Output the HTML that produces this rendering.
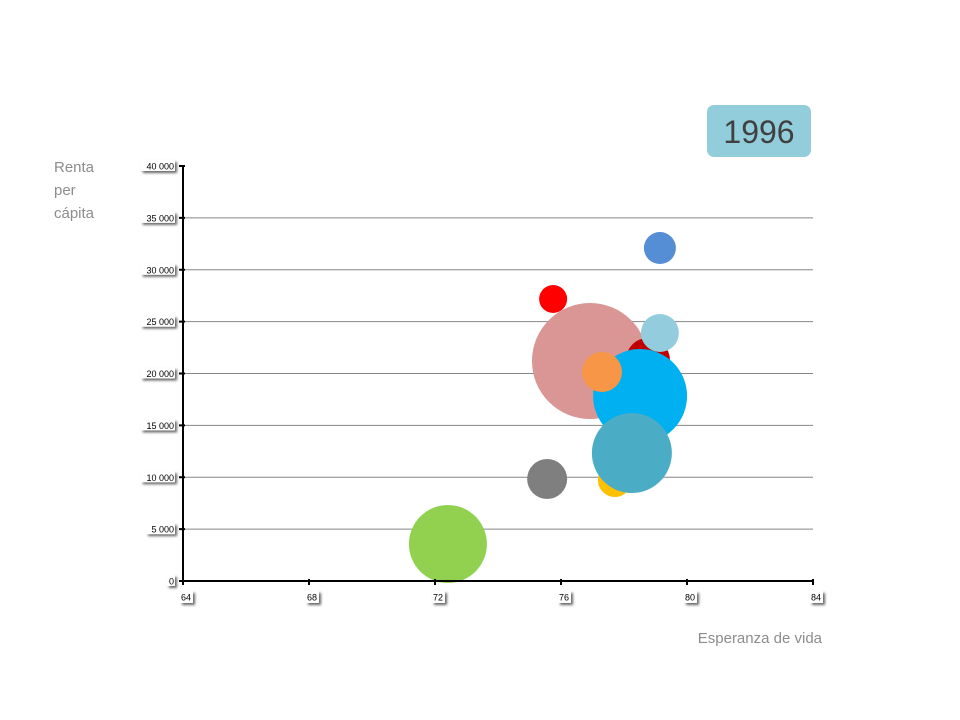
<!DOCTYPE html>
<html><head><meta charset="utf-8"><style>
body{margin:0;background:#fff;font-family:"Liberation Sans",sans-serif}
svg{display:block}
</style></head><body>
<svg id="c" width="960" height="720">
<defs><filter id="sh" x="-30%" y="-30%" width="170%" height="180%"><feDropShadow dx="2" dy="2" stdDeviation="1.2" flood-color="#000" flood-opacity="0.6"/></filter></defs>
<rect x="707" y="105" width="104" height="52" rx="7" fill="#92cddc"/>
<text x="759" y="143" text-anchor="middle" font-size="32" fill="#404040">1996</text>
<text font-size="15" fill="#8c8c8c"><tspan x="54" y="172">Renta</tspan><tspan x="54" y="195">per</tspan><tspan x="54" y="218">cápita</tspan></text>
<text x="822" y="643" text-anchor="end" font-size="15" fill="#8c8c8c">Esperanza de vida</text>
<g id="grid"></g><g id="bubbles"></g><g id="axes"></g>
</svg>
<script>
const xTicks=[64,68,72,76,80,84];
const yTicks=[0,5000,10000,15000,20000,25000,30000,35000,40000];
const yTickLabels=["0","5 000","10 000","15 000","20 000","25 000","30 000","35 000","40 000"];
const names=["green","gray","yellow","red","blue","pink","darkred","lightblue","cyan","orange","teal"];
const lifeExp=[72.41,75.56,77.71,75.75,79.14,76.92,78.76,79.14,78.51,77.30,78.25];
const income=[3566,9831,9735,27181,32096,21205,21300,23904,17831,20145,12337];
const sizes=[1521,400,289,196,256,3364,484,361,2209,400,1600];
const colors=["#92d050","#7f7f7f","#ffc000","#ff0000","#558ed5","#d99694","#c00000","#93cddd","#00b0f0","#f79646","#4bacc6"];
const NS="http://www.w3.org/2000/svg";
const X0=183,X1=813,Y0=581,Y1=166;
const xs=v=>X0+(v-64)/(84-64)*(X1-X0);
const ys=v=>Y0-(v/40000)*(Y0-Y1);
const rs=s=>Math.sqrt(s);
function mk(t,a,p){const e=document.createElementNS(NS,t);for(const k in a)e.setAttribute(k,a[k]);p.appendChild(e);return e;}
const grid=document.getElementById('grid'),bub=document.getElementById('bubbles'),ax=document.getElementById('axes');
yTicks.forEach((v,i)=>{
 if(v>0&&v<40000){const l=mk('line',{x1:X0,x2:X1,y1:ys(v),y2:ys(v),stroke:'#868686','stroke-width':1},grid);
 
 }
 const t=mk('line',{x1:X0-4,x2:X0+2,y1:ys(v),y2:ys(v),stroke:'#000','stroke-width':2},ax);
 
 
 const w=yTickLabels[i].length*5.2+3;
 const b=mk('rect',{x:X0-8-w,y:ys(v)-6,width:w,height:11,fill:'#fff',filter:'url(#sh)'},ax);
 
 
 const tx=mk('text',{x:X0-9,y:ys(v)+3.5,'text-anchor':'end','font-size':9,fill:'#000'},ax);
 tx.textContent=yTickLabels[i];
 
 
});
xTicks.forEach(v=>{
 const t=mk('line',{x1:xs(v),x2:xs(v),y1:Y0-2,y2:Y0+4,stroke:'#000','stroke-width':2},ax);
 
 
 const b=mk('rect',{x:xs(v)-3,y:Y0+10,width:13,height:12,fill:'#fff',filter:'url(#sh)'},ax);
 
 
 const tx=mk('text',{x:xs(v)-2,y:Y0+19.5,'font-size':9,fill:'#000'},ax);
 tx.textContent=String(v);
 
 
});
const xa=mk('line',{x1:X0,x2:X1+1,y1:Y0,y2:Y0,stroke:'#000','stroke-width':2},ax);


const ya=mk('line',{x1:X0,x2:X0,y1:Y1,y2:Y0+1,stroke:'#000','stroke-width':2},ax);


names.forEach((n,i)=>{
 const c=mk('circle',{cx:xs(lifeExp[i]),cy:ys(income[i]),r:rs(sizes[i]),fill:colors[i]},bub);
 
 
});
</script>
</body></html>
